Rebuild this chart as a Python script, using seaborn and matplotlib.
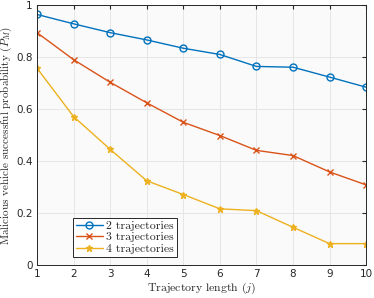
import numpy as np
import pandas as pd
import matplotlib
matplotlib.use("Agg")
import matplotlib.pyplot as plt
import seaborn as sns

# data
traj_len = [1, 2, 3, 4, 5, 6, 7, 8, 9, 10]
p_two = [0.965, 0.929, 0.895, 0.867, 0.835, 0.811, 0.765, 0.762, 0.724, 0.685]
p_three = [0.895, 0.791, 0.704, 0.625, 0.550, 0.499, 0.442, 0.422, 0.359, 0.309]
p_four = [0.758, 0.572, 0.446, 0.325, 0.272, 0.217, 0.210, 0.146, 0.083, 0.083]
series_names = ["2 trajectories", "3 trajectories", "4 trajectories"]

sns.set_style("whitegrid")
plt.rcParams["mathtext.fontset"] = "cm"
plt.rcParams["font.family"] = ["DejaVu Sans"]

fig = plt.figure(figsize=(3.74, 2.98), dpi=100)
ax = fig.add_axes([0.099, 0.110, 0.880, 0.872])
ax.set_facecolor("#fafafa")

colors = ["#0072BD", "#D95319", "#EDB120"]
markers = ["o", "x", "*"]
sizes = [5, 4, 4.5]
for vals, name, col, mk, ms in zip([p_two, p_three, p_four], series_names, colors, markers, sizes):
    df = pd.DataFrame({"j": traj_len, "p": vals})
    kw = dict(markerfacecolor="none") if mk == "o" else dict(markerfacecolor=col)
    sns.lineplot(data=df, x="j", y="p", ax=ax, color=col, marker=mk,
                 markersize=ms, markeredgecolor=col,
                 markeredgewidth=1.0, linewidth=1.0, label=name, **kw)

ax.set_xlim(1, 10)
ax.set_ylim(0, 1)
ax.set_xticks(traj_len)
ax.set_yticks([0, 0.2, 0.4, 0.6, 0.8, 1])
ax.set_yticklabels(["0", "0.2", "0.4", "0.6", "0.8", "1"])
ax.tick_params(axis="both", direction="in", length=3, labelsize=7.5,
               colors="#262626", top=True, right=True, pad=3)
ax.grid(True, color="#e6e6e6", linewidth=0.7)
for s in ax.spines.values():
    s.set_color("#262626")
    s.set_linewidth(0.7)

ax.set_xlabel("Trajectory length ($j$)", family="cmr10", fontsize=8.5, labelpad=1)
ax.set_ylabel("Malicious vehicle successful probability ($P_M$)", family="cmr10",
              fontsize=8, labelpad=1.5)

leg = ax.legend(loc="lower left", bbox_to_anchor=(0.09, 0.01),
                prop={"family": "cmr10", "size": 8.5}, frameon=True, fancybox=False,
                handlelength=2.3, borderpad=0.25, labelspacing=0.1, handletextpad=0.3)
leg.get_frame().set_edgecolor("#262626")
leg.get_frame().set_linewidth(0.7)
leg.get_frame().set_facecolor("white")
leg.get_frame().set_alpha(1)

fig.savefig("out.png", dpi=100)
